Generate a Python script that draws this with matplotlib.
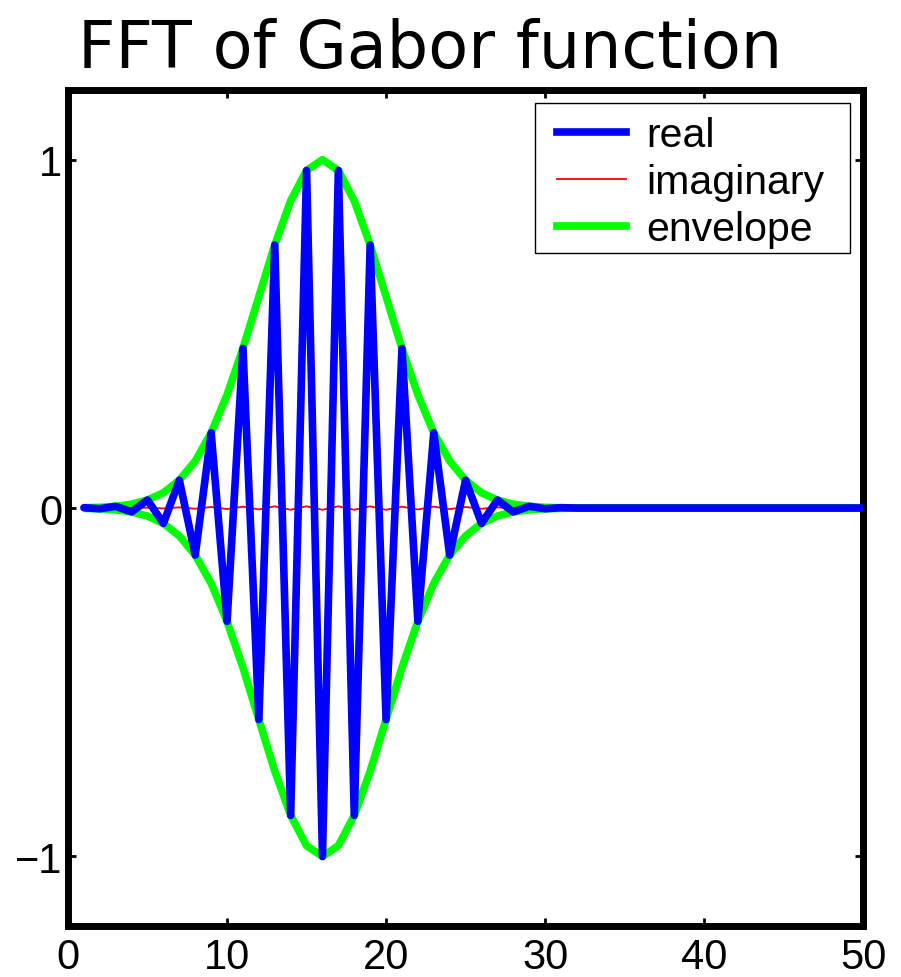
import numpy as np
import matplotlib
matplotlib.use('Agg')
from matplotlib import pyplot as plt
from matplotlib.patches import Rectangle

# sample index 1..50
x = np.arange(1, 51)

# envelope (peak at 16)
envelope = [0.001, 0.002, 0.005, 0.011, 0.023, 0.044, 0.080, 0.135, 0.216, 0.325,
            0.458, 0.607, 0.755, 0.882, 0.969, 1.000, 0.969, 0.882, 0.755, 0.607,
            0.458, 0.325, 0.216, 0.135, 0.080, 0.044, 0.023, 0.011, 0.005, 0.002,
            0.001, 0.000, 0.000, 0.000, 0.000, 0.000, 0.000, 0.000, 0.000, 0.000,
            0.000, 0.000, 0.000, 0.000, 0.000, 0.000, 0.000, 0.000, 0.000, 0.000]

# real part, alternating sign under the envelope
real = [0.001, -0.002, 0.005, -0.011, 0.023, -0.044, 0.080, -0.135, 0.216, -0.325,
        0.458, -0.607, 0.755, -0.882, 0.969, -1.000, 0.969, -0.882, 0.755, -0.607,
        0.458, -0.325, 0.216, -0.135, 0.080, -0.044, 0.023, -0.011, 0.005, -0.002,
        0.001, 0.000, 0.000, 0.000, 0.000, 0.000, 0.000, 0.000, 0.000, 0.000,
        0.000, 0.000, 0.000, 0.000, 0.000, 0.000, 0.000, 0.000, 0.000, 0.000]

# imaginary part, tiny wiggle
imag = [0.000, 0.000, 0.000, 0.000, 0.001, -0.001, 0.002, -0.002, 0.003, -0.003,
        0.004, -0.004, 0.005, -0.005, 0.005, -0.005, 0.005, -0.005, 0.005, -0.005,
        0.004, -0.004, 0.004, -0.003, 0.003, -0.002, 0.002, -0.001, 0.001, 0.000,
        0.000, 0.000, 0.000, 0.000, 0.000, 0.000, 0.000, 0.000, 0.000, 0.000,
        0.000, 0.000, 0.000, 0.000, 0.000, 0.000, 0.000, 0.000, 0.000, 0.000]

xticks = [0, 10, 20, 30, 40, 50]
yticks = [-1, 0, 1]

plt.rcParams['font.family'] = ['Liberation Sans', 'DejaVu Sans']

fig = plt.figure(figsize=(9.01, 9.78), dpi=100)
ax = fig.add_axes([0.0755, 0.052, 0.8825, 0.855])

env = np.array(envelope)
ax.plot(x, env, color='#00ff00', lw=5.5, zorder=2, solid_capstyle='butt')
ax.plot(x, -env, color='#00ff00', lw=5.5, zorder=2, solid_capstyle='butt')
ax.plot(x, imag, color='#ff0000', lw=1.3, zorder=3)
ax.plot(x, real, color='#0000ff', lw=5.5, zorder=4, solid_capstyle='round',
        solid_joinstyle='round')

ax.set_xlim(0, 50)
ax.set_ylim(-1.2, 1.2)
ax.set_xticks(xticks)
ax.set_yticks(yticks)

for s in ax.spines.values():
    s.set_linewidth(5)
ax.tick_params(direction='in', length=6, width=2, top=True, right=True,
               labelsize=30)
ax.tick_params(axis='x', pad=8)
ax.tick_params(axis='y', pad=4)

# legend box drawn by hand (matlab style, wider side padding)
ax.add_patch(Rectangle((0.587, 0.805), 0.397, 0.179, transform=ax.transAxes,
                       facecolor='white', edgecolor='black', lw=1, zorder=4.5))

h_real, = ax.plot([], [], color='#0000ff', lw=5.5)
h_imag, = ax.plot([], [], color='#ff0000', lw=1.3)
h_env, = ax.plot([], [], color='#00ff00', lw=5.5)
leg = ax.legend([h_real, h_imag, h_env], ['real', 'imaginary', 'envelope'],
                loc='upper left', bbox_to_anchor=(0.615, 0.969),
                borderaxespad=0, borderpad=0, fontsize=29.5, frameon=False,
                handlelength=1.68, handletextpad=0.5, labelspacing=0.22)
leg.set_zorder(5)

fig.text(430 / 901, 1 - 68 / 978, 'FFT of Gabor function', fontsize=47,
         family='DejaVu Sans', ha='center', va='baseline')

fig.savefig('out.png', dpi=100)
